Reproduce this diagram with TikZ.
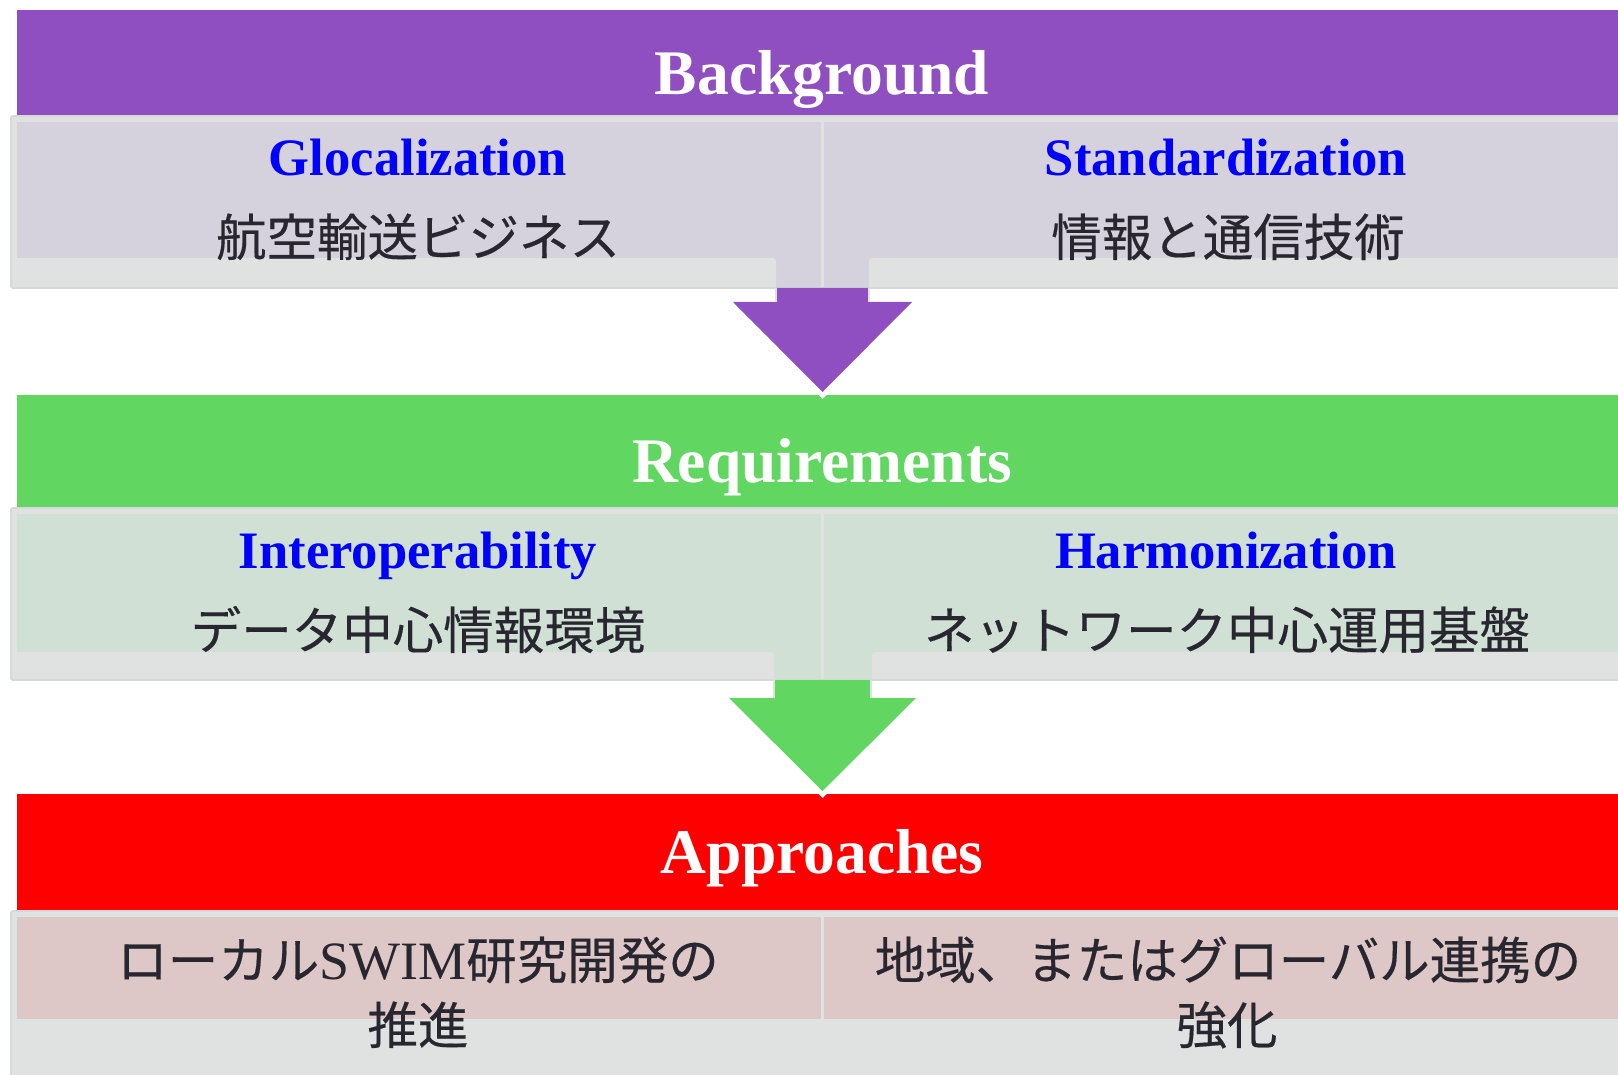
\documentclass[tikz,border=0pt]{standalone}
\usepackage{fontspec}
\setmainfont{Liberation Serif}
\newfontfamily\jpfont[FakeBold=0.35]{Noto Sans CJK JP}
\usetikzlibrary{calc}

\definecolor{hdrpurple}{RGB}{143,79,192}
\definecolor{hdrgreen}{RGB}{97,214,97}
\definecolor{hdrred}{RGB}{255,0,0}
\definecolor{panelgray}{RGB}{223,226,225}
\definecolor{paneledge}{RGB}{214,217,216}
\definecolor{lavender}{RGB}{213,209,221}
\definecolor{sage}{RGB}{208,224,213}
\definecolor{rose}{RGB}{222,200,199}
\definecolor{inkdark}{RGB}{40,39,48}

\begin{document}
\begin{tikzpicture}[x=0.5pt,y=-0.5pt,
  hdr/.style={font=\bfseries\fontsize{31.75}{38}\selectfont, text=white, inner sep=0pt, anchor=base},
  sub/.style={font=\bfseries\fontsize{26.3}{32}\selectfont, text=blue, inner sep=0pt, anchor=base},
  jptxt/.style={font=\jpfont\fontsize{25.25}{31}\selectfont, text=inkdark, inner sep=0pt, anchor=base},
  panel/.style={fill=panelgray},
  panelrim/.style={draw=paneledge, line width=0.9pt, rounded corners=1pt},
  divider/.style={draw=panelgray, line width=1.5pt},
  shaftedge/.style={draw=panelgray, line width=0.75pt},
]
\useasboundingbox (0,0) rectangle (1618,1075);
\clip (0,0) rectangle (1618,1075);

% ---------- Background block ----------
\fill[hdrpurple] (17,10) rectangle (1640,116);
\fill[panel] (11,116) rectangle (1640,288);
\fill[lavender] (17,122) rectangle (1640,288);
\fill[panelgray] (17,288) -- (17,258) -- (773,258) to[out=0,in=90] (776,261) -- (776,288) -- cycle;
\fill[panelgray] (1640,288) -- (1640,258) -- (872,258) to[out=180,in=90] (869,261) -- (869,288) -- cycle;
\draw[divider] (822,116) -- (822,288);
\draw[panelrim] (1640,116) -- (11,116) -- (11,288) -- (1640,288);

% ---------- Requirements block ----------
\fill[hdrgreen] (17,395) rectangle (1640,508);
\fill[panel] (11,508) rectangle (1640,680);
\fill[sage] (17,514) rectangle (1640,680);
\fill[panelgray] (17,680) -- (17,652) -- (771,652) to[out=0,in=90] (774,655) -- (774,680) -- cycle;
\fill[panelgray] (1640,680) -- (1640,652) -- (875,652) to[out=180,in=90] (872,655) -- (872,680) -- cycle;
\draw[divider] (822,508) -- (822,680);
\draw[panelrim] (1640,508) -- (11,508) -- (11,680) -- (1640,680);

% ---------- Approaches block ----------
\fill[hdrred] (17,794) rectangle (1640,911);
\fill[panel] (11,911) rectangle (1640,1090);
\fill[rose] (17,917) rectangle (1640,1019);
\draw[divider] (822,911) -- (822,1090);
\draw[panelrim] (1640,911) -- (11,911) -- (11,1090);

% ---------- block arrows ----------
\coordinate (a1top) at (822.5,288);
\coordinate (a1tip) at (822.5,392);
\coordinate (a2top) at (822.5,680);
\coordinate (a2tip) at (822.5,791);

% white notch below each tip
\fill[white] ($(a1tip)+(-10,-3)$) -- ($(a1tip)+(0,7)$) -- ($(a1tip)+(10,-3)$) -- cycle;
\fill[white] ($(a2tip)+(-10,-3)$) -- ($(a2tip)+(0,7)$) -- ($(a2tip)+(10,-3)$) -- cycle;

\fill[hdrpurple] ($(a1top)+(-46.5,0)$) -- ($(a1top)+(-46.5,14)$) -- ($(a1top)+(-89.5,14)$)
  -- (a1tip) -- ($(a1top)+(89.5,14)$) -- ($(a1top)+(46.5,14)$) -- ($(a1top)+(46.5,0)$) -- cycle;
\draw[shaftedge] ($(a1top)+(-46.5,0)$) -- ($(a1top)+(-46.5,14)$);
\draw[shaftedge] ($(a1top)+(46.5,0)$) -- ($(a1top)+(46.5,14)$);

\fill[hdrgreen] ($(a2top)+(-48.5,0)$) -- ($(a2top)+(-48.5,18)$) -- ($(a2top)+(-93.5,18)$)
  -- (a2tip) -- ($(a2top)+(93.5,18)$) -- ($(a2top)+(48.5,18)$) -- ($(a2top)+(48.5,0)$) -- cycle;
\draw[shaftedge] ($(a2top)+(-48.5,0)$) -- ($(a2top)+(-48.5,18)$);
\draw[shaftedge] ($(a2top)+(48.5,0)$) -- ($(a2top)+(48.5,18)$);

% ---------- texts ----------
\node[hdr] (bgT) at (822,95) {Background};
\node[hdr] (rqT) at (822,482) {Requirements};
\node[hdr] (apT) at (822,873) {Approaches};

\node[sub] (glo) at (418,176) {Glocalization};
\node[sub] (std) at (1226,176) {Standardization};
\node[jptxt] (gloJ) at (418,256) {航空輸送ビジネス};
\node[jptxt] (stdJ) at (1228,256) {情報と通信技術};

\node[sub] (iop) at (418,568) {Interoperability};
\node[sub] (har) at (1226,568) {Harmonization};
\node[jptxt] (iopJ) at (418,649) {データ中心情報環境};
\node[jptxt] (harJ) at (1227,649) {ネットワーク中心運用基盤};

\node[jptxt] (apL1) at (418,979) {ローカル{\rmfamily\fontsize{27}{31}\selectfont SWIM}研究開発の};
\node[jptxt] (apL2) at (418,1044) {推進};
\node[jptxt] (apR1) at (1228,979) {地域、またはグローバル連携の};
\node[jptxt] (apR2) at (1227,1044) {強化};
\end{tikzpicture}
\end{document}
